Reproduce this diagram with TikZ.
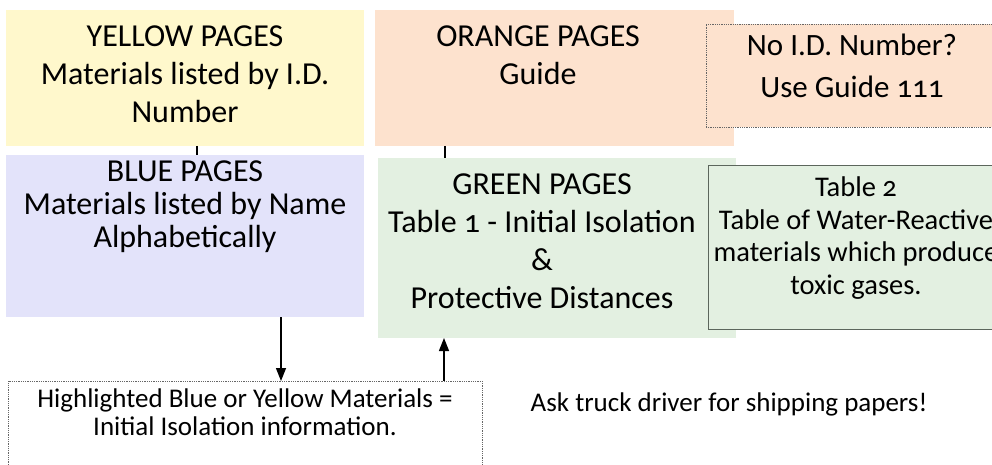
\documentclass[tikz,border=0pt]{standalone}
\usepackage{fontspec}
\setmainfont{Carlito}[Numbers=OldStyle]
\usetikzlibrary{arrows.meta}
\definecolor{yel}{HTML}{FFF8CC}
\definecolor{ora}{HTML}{FDE2CE}
\definecolor{blu}{HTML}{E3E3FA}
\definecolor{gre}{HTML}{E3F0E1}
\definecolor{tborder}{HTML}{5C665C}
\definecolor{dotc}{HTML}{666666}
\tikzset{
  box/.style={rectangle, anchor=north west, inner sep=0pt, outer sep=0pt},
  bigtxt/.style={font=\fontsize{32}{38}\selectfont, align=center, inner sep=0pt, anchor=base},
  midtxt/.style={font=\fontsize{28.5}{32.5}\selectfont, align=center, inner sep=0pt, anchor=base},
  smalltxt/.style={font=\fontsize{27}{28}\selectfont, align=center, inner sep=0pt, anchor=base},
  link/.style={line width=1.4pt, black},
  arr/.style={line width=1.4pt, black, -{Triangle[width=10pt,length=13pt]}}
}
\begin{document}
\begin{tikzpicture}[x=1pt,y=-1pt]
\useasboundingbox (0,0) rectangle (992,465);
\clip (0,0) rectangle (992,465);
% boxes
\node[box, fill=yel, minimum width=358pt, minimum height=136pt] (yellow) at (6,10) {};
\node[box, fill=ora, minimum width=359pt, minimum height=136pt] (orange) at (375,10) {};
\node[box, fill=ora, draw=dotc, densely dotted, line width=0.8pt, minimum width=300pt, minimum height=103pt] (noid) at (706,24) {};
\node[box, fill=blu, minimum width=358pt, minimum height=162pt] (blue) at (6,155) {};
\node[box, fill=gre, minimum width=358pt, minimum height=180pt] (green) at (378,158) {};
\node[box, fill=gre, draw=tborder, line width=1pt, minimum width=300pt, minimum height=163pt] (table2) at (708,166) {};
\node[box, fill=white, draw=dotc, densely dotted, line width=0.8pt, minimum width=474pt, minimum height=110pt] (hl) at (8,381) {};
% texts (anchor = baseline of last line)
\node[bigtxt] (ytxt) at (185,123) {YELLOW PAGES\\Materials listed by I.D.\\Number};
\node[bigtxt] (otxt) at (538,85) {ORANGE PAGES\\Guide};
\node[bigtxt, font=\fontsize{31}{42}\selectfont] (ntxt) at (852,98) {No I.D. Number?\\Use Guide 111};
\node[bigtxt, font=\fontsize{32}{33}\selectfont] (btxt) at (185,247) {BLUE PAGES\\Materials listed by Name\\Alphabetically};
\node[bigtxt] (gtxt) at (542,308) {GREEN PAGES\\Table 1 - Initial Isolation\\\&\\Protective Distances};
\node[midtxt] (ttxt) at (856,294) {Table 2\\Table of Water-Reactive\\materials which produce\\toxic gases.};
\node[smalltxt] (htxt) at (245,435) {Highlighted Blue or Yellow Materials =\\Initial Isolation information.};
\node[smalltxt] (ask) at (729,411) {Ask truck driver for shipping papers!};
% connectors
\coordinate (c1) at (197,0);
\coordinate (c2) at (445,0);
\coordinate (c3) at (281,0);
\coordinate (c4) at (444,0);
\draw[link] (yellow.south -| c1) -- (blue.north -| c1);
\draw[link] (orange.south -| c2) -- (green.north -| c2);
\draw[arr] (blue.south -| c3) -- (hl.north -| c3);
\draw[arr] (hl.north -| c4) -- (green.south -| c4);
\end{tikzpicture}
\end{document}
